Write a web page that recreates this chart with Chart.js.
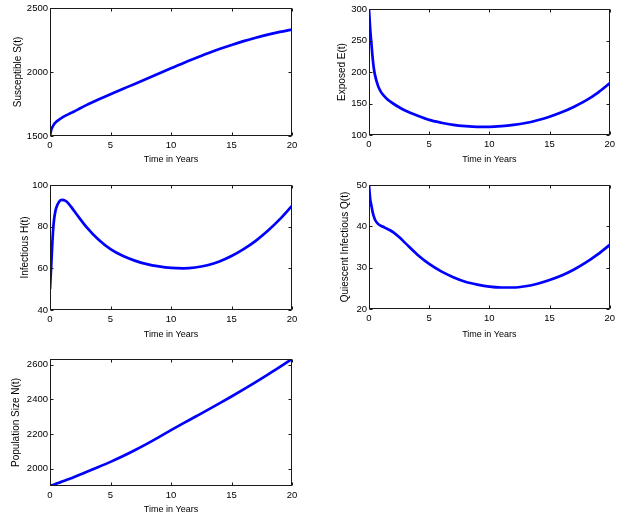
<!DOCTYPE html>
<html>
<head>
<meta charset="utf-8">
<script src="https://cdn.jsdelivr.net/npm/chart.js@4.4.1/dist/chart.umd.min.js"></script>
<style>
  body { margin: 0; background: #fff; }
  #wrap { position: relative; width: 619px; height: 517px; overflow: hidden; }
  #wrap canvas { position: absolute; }
</style>
</head>
<body>
<div id="wrap">
  <canvas id="c1" width="305" height="165" style="left:0px;top:0px"></canvas>
  <canvas id="c2" width="309" height="165" style="left:310px;top:0px"></canvas>
  <canvas id="c3" width="305" height="168" style="left:0px;top:172px"></canvas>
  <canvas id="c4" width="309" height="168" style="left:310px;top:172px"></canvas>
  <canvas id="c5" width="305" height="172" style="left:0px;top:345px"></canvas>
</div>
<script>
// time points (years)
var tYears      = [0, 0.1, 0.2, 0.3, 0.4, 0.5, 0.75, 1, 1.25, 1.5, 1.75, 2, 2.5, 3, 4, 5, 6, 7, 8, 9, 10, 11, 12, 13, 14, 15, 16, 17, 18, 19, 20];
var susceptible = [1500, 1548, 1570, 1587, 1600, 1610, 1628, 1644, 1657, 1669, 1681, 1692, 1717, 1741, 1785, 1827, 1867, 1907, 1947, 1988, 2029, 2069, 2107, 2144, 2179, 2211, 2241, 2268, 2292, 2313, 2332];
var exposed     = [300, 268, 245, 223, 206, 195, 178, 168, 162, 157, 153.3, 150, 144, 139, 131, 124, 119.5, 116, 114, 113, 113, 114, 116, 119, 123.5, 129, 136, 144.5, 154.5, 167, 182];
var infectious  = [50, 61, 73, 81.5, 86, 88.8, 92, 92.9, 92.5, 91.3, 89.5, 87.5, 83.6, 79.9, 73.8, 69.2, 66, 63.7, 62, 60.9, 60.2, 60, 60.4, 61.5, 63.3, 65.9, 69.2, 73.2, 78, 83.6, 90];
var quiescent   = [50, 46.6, 45, 43.5, 42.4, 41.6, 40.6, 40.1, 39.8, 39.4, 39.05, 38.6, 37.4, 36, 33.2, 30.9, 29.1, 27.7, 26.6, 25.9, 25.4, 25.2, 25.2, 25.5, 26.1, 27, 28.1, 29.5, 31.2, 33.2, 35.5];
var population  = [1900, 1902.5, 1905, 1907.5, 1910, 1912.5, 1919, 1925.5, 1932, 1938.5, 1945, 1952, 1966, 1980, 2009, 2039, 2071, 2106, 2143, 2182, 2222, 2261, 2299, 2337, 2376, 2416, 2457, 2499, 2542, 2586, 2632];

var xTickVals = [0, 5, 10, 15, 20];
var sTicks = [1500, 2000, 2500];
var eTicks = [100, 150, 200, 250, 300];
var hTicks = [40, 60, 80, 100];
var qTicks = [20, 30, 40, 50];
var nTicks = [2000, 2200, 2400, 2600];

var xTitle = 'Time in Years';
var fontFam = '"Liberation Sans", Arial, Helvetica, sans-serif';

// MATLAB-like box with inward ticks
var boxPlugin = {
  id: 'matlabBox',
  afterDraw: function(chart) {
    var ctx = chart.ctx, a = chart.chartArea;
    var xs = chart.scales.x, ys = chart.scales.y;
    var L = Math.round(a.left) + 0.5, R = Math.round(a.right) - 0.5;
    var T = Math.round(a.top) + 0.5, B = Math.round(a.bottom) - 0.5;
    ctx.save();
    ctx.strokeStyle = '#1a1a1a';
    ctx.lineWidth = 1;
    ctx.beginPath();
    xs.ticks.forEach(function(t) {
      var px = Math.round(xs.getPixelForValue(t.value)) + 0.5;
      ctx.moveTo(px, B); ctx.lineTo(px, B - 3);
      ctx.moveTo(px, T); ctx.lineTo(px, T + 3);
    });
    ys.ticks.forEach(function(t) {
      var py = Math.round(ys.getPixelForValue(t.value)) + 0.5;
      ctx.moveTo(L, py); ctx.lineTo(L + 3, py);
      ctx.moveTo(R, py); ctx.lineTo(R - 3, py);
    });
    ctx.stroke();
    ctx.strokeRect(L, T, R - L, B - T);
    ctx.restore();
  }
};

function plainLabel(v) { return String(v); }

function makeChart(id, box, values, yMin, yMax, yTicks, yTitle) {
  var pts = tYears.map(function(t, i) { return { x: t, y: values[i] }; });
  return new Chart(document.getElementById(id), {
    type: 'line',
    data: {
      datasets: [{
        data: pts,
        borderColor: '#0000ff',
        borderWidth: 2.7,
        pointRadius: 0,
        fill: false,
        cubicInterpolationMode: 'monotone'
      }]
    },
    options: {
      responsive: false,
      animation: false,
      events: [],
      layout: { padding: { left: 0, top: box.top, right: box.right, bottom: 0 } },
      plugins: { legend: { display: false }, tooltip: { enabled: false } },
      scales: {
        x: {
          type: 'linear', min: 0, max: 20,
          afterBuildTicks: function(s) { s.ticks = xTickVals.map(function(v) { return { value: v }; }); },
          afterFit: function(s) { s.height = box.xh; },
          grid: { display: false, drawTicks: false },
          border: { display: false },
          ticks: { color: '#000', padding: 4, maxRotation: 0, callback: plainLabel, font: { family: fontFam, size: 9.5 } },
          title: { display: true, text: xTitle, color: '#000', padding: { top: 0, bottom: box.xtp }, font: { family: fontFam, size: 9 } }
        },
        y: {
          min: yMin, max: yMax,
          afterBuildTicks: function(s) { s.ticks = yTicks.map(function(v) { return { value: v }; }); },
          afterFit: function(s) { s.width = box.yw; },
          grid: { display: false, drawTicks: false },
          border: { display: false },
          ticks: { color: '#000', padding: 2, callback: plainLabel, font: { family: fontFam, size: 9.5 } },
          title: { display: true, text: yTitle, color: '#000', padding: { top: box.ytp, bottom: 0 }, font: { family: fontFam, size: 10 } }
        }
      }
    },
    plugins: [boxPlugin]
  });
}

makeChart('c1', { top: 8, right: 13, yw: 50, xh: 29, xtp: 0, ytp: 12 }, susceptible, 1500, 2500, sTicks, 'Susceptible S(t)');
makeChart('c2', { top: 9, right: 9, yw: 59, xh: 30, xtp: 0, ytp: 26 }, exposed, 100, 300, eTicks, 'Exposed E(t)');
makeChart('c3', { top: 13, right: 13, yw: 50, xh: 30, xtp: 0, ytp: 19 }, infectious, 40, 100, hTicks, 'Infectious H(t)');
makeChart('c4', { top: 13, right: 9, yw: 59, xh: 31, xtp: 0, ytp: 29 }, quiescent, 20, 50, qTicks, 'Quiescent Infectious Q(t)');
makeChart('c5', { top: 14, right: 13, yw: 50, xh: 31, xtp: 2, ytp: 10 }, population, 1900, 2632, nTicks, 'Population Size N(t)');
</script>
</body>
</html>
